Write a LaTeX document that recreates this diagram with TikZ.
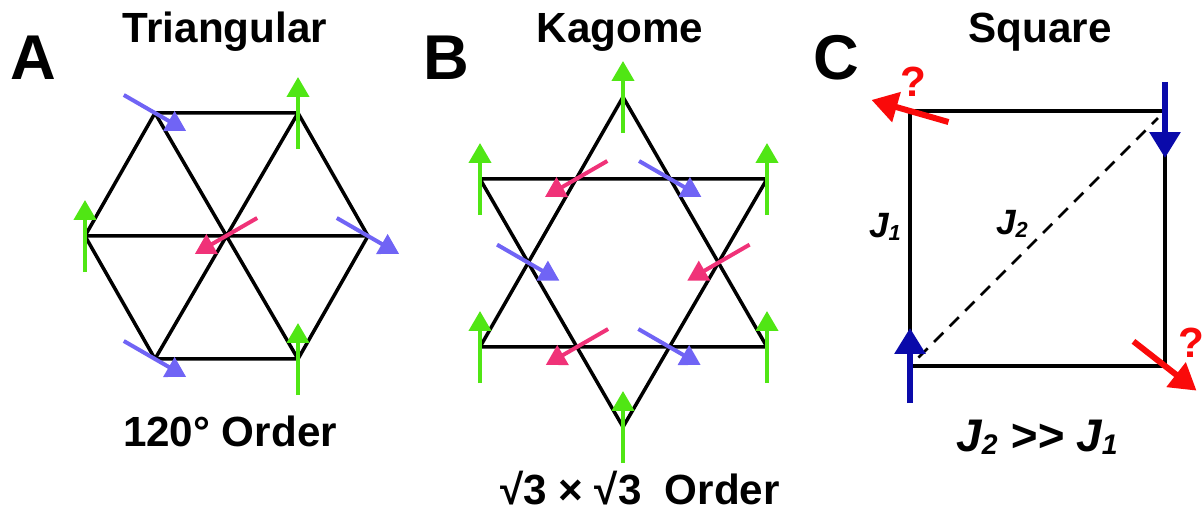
\documentclass[tikz,border=0pt]{standalone}
\usepackage{fontspec}
\setmainfont{Liberation Sans}
\usetikzlibrary{arrows.meta,calc}
\definecolor{spgreen}{RGB}{80,230,20}
\definecolor{spblue}{RGB}{112,100,245}
\definecolor{sppink}{RGB}{240,50,120}
\definecolor{spred}{RGB}{250,10,10}
\definecolor{spnavy}{RGB}{10,10,170}
\tikzset{
  lat/.style={line width=0.035cm, draw=black, line join=round},
  latdash/.style={line width=0.028cm, draw=black, dash pattern=on 0.13cm off 0.09cm},
  spin/.style={-{Triangle[length=0.2cm,width=0.22cm]}, line width=0.04cm},
  bigspin/.style={-{Triangle[length=0.26cm,width=0.3cm]}, line width=0.06cm},
  ttl/.style={font=\bfseries\fontsize{12}{14}\selectfont, anchor=base, inner sep=0pt},
  panel/.style={font=\bfseries\fontsize{18}{20}\selectfont, anchor=base, inner sep=0pt},
  jlbl/.style={font=\bfseries\itshape\fontsize{10}{12}\selectfont, anchor=base, inner sep=0pt},
}
% flecha de espin centrada en un sitio: estilo, sitio, angulo, media longitud
\newcommand{\spinat}[4]{%
  \draw[#1] ([shift={(#3+180:#4)}]#2) -- ([shift={(#3:#4)}]#2);}
% subindice casi sobre la linea base
\newcommand{\jsub}[1]{\raisebox{-0.12ex}{\scalebox{0.62}{#1}}}

\begin{document}
\begin{tikzpicture}[x=0.01cm, y=-0.01cm]
  \useasboundingbox (0,0) rectangle (1202,510);

  % Triangular
  \node[panel] (lblA) at (33,80) {A};
  \node[ttl] (ttlA) at (225,43) {Triangular};
  \coordinate (a0) at (226,236);
  \coordinate (a1) at (155,113);
  \coordinate (a2) at (298,113);
  \coordinate (a3) at (368,236);
  \coordinate (a4) at (298,359);
  \coordinate (a5) at (155,359);
  \coordinate (a6) at (85,236);
  \draw[lat] (a1) -- (a2) -- (a3) -- (a4) -- (a5) -- (a6) -- cycle;
  \draw[lat] (a1) -- (a4) (a2) -- (a5) (a3) -- (a6);
  \foreach \s in {a1,a3,a5} {\spinat{spin, spblue}{\s}{-30}{0.36cm}}
  \foreach \s in {a2,a4,a6} {\spinat{spin, spgreen}{\s}{90}{0.36cm}}
  \spinat{spin, sppink}{a0}{210}{0.36cm}
  \node[ttl] (ordA) at (230,447) {120° Order};

  % Kagome
  \node[panel] (lblB) at (446,80) {B};
  \node[ttl] (ttlB) at (620,43) {Kagome};
  \coordinate (k1) at (623,97);
  \coordinate (k2) at (767,179);
  \coordinate (k3) at (767,347);
  \coordinate (k4) at (623,427);
  \coordinate (k5) at (480,347);
  \coordinate (k6) at (480,179);
  \coordinate (h1) at (intersection of k1--k5 and k6--k2);
  \coordinate (h2) at (intersection of k1--k3 and k6--k2);
  \coordinate (h3) at (intersection of k1--k3 and k2--k4);
  \coordinate (h4) at (intersection of k5--k3 and k2--k4);
  \coordinate (h5) at (intersection of k5--k3 and k6--k4);
  \coordinate (h6) at (intersection of k1--k5 and k6--k4);
  \draw[lat] (k1) -- (k3) -- (k5) -- cycle;
  \draw[lat] (k6) -- (k2) -- (k4) -- cycle;
  \foreach \s in {k1,k2,k3,k4,k5,k6} {\spinat{spin, spgreen}{\s}{90}{0.36cm}}
  \foreach \s in {h1,h3,h5} {\spinat{spin, sppink}{\s}{210}{0.36cm}}
  \foreach \s in {h2,h4,h6} {\spinat{spin, spblue}{\s}{-30}{0.36cm}}
  \node[ttl] (ordB) at (640,505) {√3 × √3\ \ Order};

  % Square
  \node[panel] (lblC) at (836,80) {C};
  \node[ttl] (ttlC) at (1040,43) {Square};
  \coordinate (c1) at (910,111);
  \coordinate (c2) at (1165,111);
  \coordinate (c3) at (1165,366);
  \coordinate (c4) at (910,366);
  \draw[lat] (c1) -- (c2) -- (c3) -- (c4) -- cycle;
  \draw[latdash, shorten <=0.12cm, shorten >=0.1cm] (c4) -- (c2);
  \draw[bigspin, spnavy] ([yshift=0.29cm]c2) -- ([yshift=-0.47cm]c2);
  \draw[bigspin, spnavy] ([yshift=-0.37cm]c4) -- ([yshift=0.38cm]c4);
  \spinat{bigspin, spred}{c1}{164}{0.40cm}
  \spinat{bigspin, spred}{c3}{-38}{0.40cm}
  \node[ttl, text=spred] (q1) at (913,97) {?};
  \node[ttl, text=spred] (q2) at (1191,358) {?};
  \node[jlbl] (j1) at (885,238) {J\jsub{1}};
  \node[jlbl] (j2) at (1012,235) {J\jsub{2}};
  \node[ttl, font=\bfseries\itshape\fontsize{13}{15}\selectfont] (jrel) at (1037,452)
    {J\jsub{2} >{}> J\jsub{1}};
\end{tikzpicture}
\end{document}
